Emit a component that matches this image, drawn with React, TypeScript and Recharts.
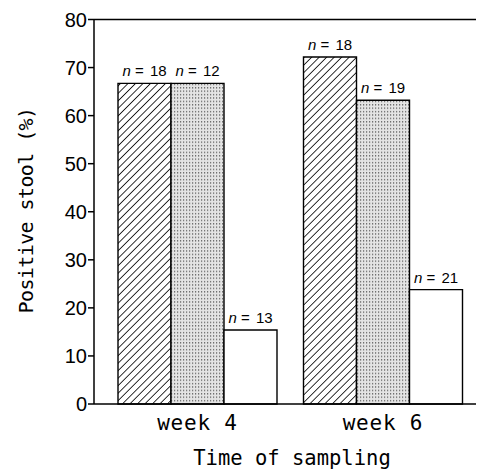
import React from 'react';
import { BarChart, Bar, XAxis, YAxis, ReferenceLine, LabelList, Label } from 'recharts';

const categories = ['week 4', 'week 6'];
const hatchedValues = [66.7, 72.2];
const stippledValues = [66.7, 63.2];
const openValues = [15.4, 23.8];
const hatchedN = [18, 18];
const stippledN = [12, 19];
const openN = [13, 21];
const yTicks = [0, 10, 20, 30, 40, 50, 60, 70, 80];

const data = categories.map((c, i) => ({
  cat: c,
  hatched: hatchedValues[i],
  stippled: stippledValues[i],
  open: openValues[i],
  nH: hatchedN[i],
  nS: stippledN[i],
  nO: openN[i],
}));

const MONO = '"DejaVu Sans Mono", monospace';
const SANS = '"Liberation Sans", Arial, sans-serif';

const NLabel = (props: any) => {
  const { x, y, width, value } = props;
  return (
    <text x={x + width / 2} y={y - 7} textAnchor="middle" fontFamily={SANS} fontSize={15} fill="#000">
      <tspan fontStyle="italic">n</tspan>
      <tspan> = </tspan>
      <tspan dx={2}>{value}</tspan>
    </text>
  );
};

export default function App() {
  return (
    <div style={{ width: 476, height: 464 }}>
      <BarChart
        width={476}
        height={464}
        data={data}
        margin={{ top: 11.5, right: 0, bottom: 0, left: 0 }}
        barGap={0}
        barCategoryGap={13.25}
      >
        <defs>
          <pattern id="hatch" width="5.3" height="5.3" patternUnits="userSpaceOnUse" patternTransform="rotate(45)">
            <rect width="5.3" height="5.3" fill="#fff" />
            <line x1="0" y1="0" x2="0" y2="5.3" stroke="#000" strokeWidth="1.6" />
          </pattern>
          <pattern id="stipple" width="3" height="3.4" patternUnits="userSpaceOnUse">
            <rect width="3" height="3.4" fill="#e4e4e4" />
            <rect x="1" y="1" width="1.2" height="1.2" fill="#555" />
          </pattern>
        </defs>
        <XAxis
          dataKey="cat"
          height={68}
          padding={{ left: 10.75, right: 8.25 }}
          tickLine={false}
          tickSize={0}
          tickMargin={11}
          axisLine={{ stroke: '#000', strokeWidth: 1.5 }}
          tick={{ fill: '#000', fontFamily: MONO, fontSize: 21, letterSpacing: 0.8 }}
        >
          <Label
            content={() => (
              <text x={284} y={457} textAnchor="middle" fontFamily={MONO} fontSize={20.5} fill="#000">
                Time of sampling
              </text>
            )}
          />
        </XAxis>
        <YAxis
          width={86}
          domain={[0, 80]}
          ticks={yTicks}
          interval={0}
          tickSize={6}
          tickMargin={1}
          axisLine={{ stroke: '#000', strokeWidth: 1.5 }}
          tickLine={{ stroke: '#000', strokeWidth: 1.5 }}
          tick={{ fill: '#000', fontFamily: SANS, fontSize: 20 }}
        >
          <Label
            content={() => (
              <text
                x={25}
                y={202.5}
                transform="rotate(-90 25 202.5)"
                textAnchor="middle"
                fontFamily={MONO}
                fontSize={20}
                letterSpacing={-0.6}
                fill="#000"
              >
                Positive stool (%)
              </text>
            )}
          />
        </YAxis>
        <ReferenceLine y={80} stroke="#000" strokeWidth={1.5} />
        <Bar dataKey="hatched" fill="url(#hatch)" stroke="#000" strokeWidth={1.4} isAnimationActive={false}>
          <LabelList dataKey="nH" content={NLabel} />
        </Bar>
        <Bar dataKey="stippled" fill="url(#stipple)" stroke="#000" strokeWidth={1.4} isAnimationActive={false}>
          <LabelList dataKey="nS" content={NLabel} />
        </Bar>
        <Bar dataKey="open" fill="#fff" stroke="#000" strokeWidth={1.4} isAnimationActive={false}>
          <LabelList dataKey="nO" content={NLabel} />
        </Bar>
      </BarChart>
    </div>
  );
}
